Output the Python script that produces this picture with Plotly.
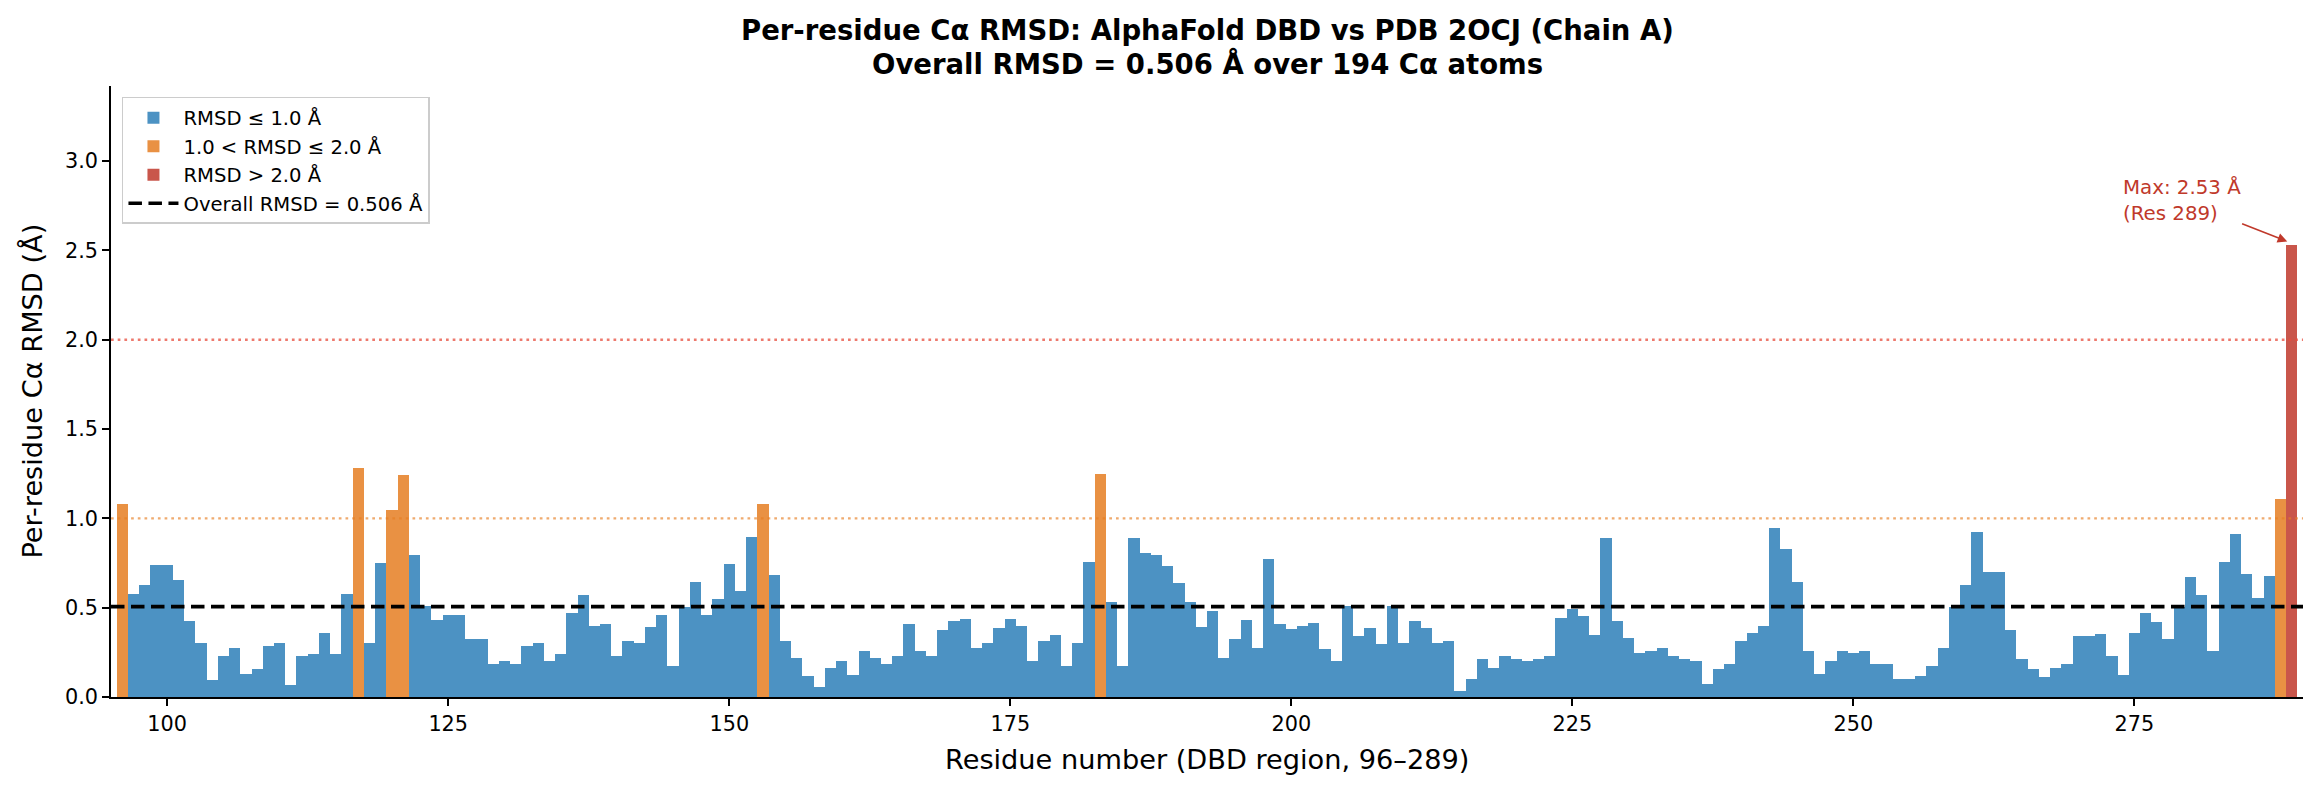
import plotly.graph_objects as go

# ---- data ----
first_residue = 96
rmsd = [
    1.08, 0.575, 0.625, 0.738, 0.738, 0.654, 0.423, 0.30, 0.097, 0.232,
    0.272, 0.131, 0.159, 0.283, 0.30, 0.069, 0.232, 0.243, 0.356, 0.243,
    0.575, 1.283, 0.305, 0.749, 1.047, 1.243, 0.794, 0.507, 0.429, 0.457,
    0.457, 0.322, 0.322, 0.187, 0.204, 0.182, 0.288, 0.30, 0.204, 0.243,
    0.468, 0.569, 0.395, 0.406, 0.227, 0.316, 0.30, 0.39, 0.457, 0.176,
    0.502, 0.642, 0.457, 0.547, 0.743, 0.592, 0.895, 1.081, 0.682, 0.316,
    0.221, 0.12, 0.058, 0.165, 0.199, 0.125, 0.26, 0.221, 0.187, 0.232,
    0.406, 0.255, 0.227, 0.373, 0.423, 0.434, 0.277, 0.305, 0.384, 0.434,
    0.40, 0.199, 0.316, 0.345, 0.176, 0.305, 0.755, 1.249, 0.53, 0.176,
    0.89, 0.805, 0.794, 0.732, 0.637, 0.53, 0.39, 0.479, 0.221, 0.322,
    0.429, 0.277, 0.772, 0.406, 0.378, 0.395, 0.412, 0.266, 0.204, 0.507,
    0.339, 0.384, 0.294, 0.507, 0.30, 0.423, 0.384, 0.305, 0.316, 0.036,
    0.103, 0.215, 0.165, 0.227, 0.21, 0.199, 0.21, 0.227, 0.44, 0.49,
    0.451, 0.345, 0.89, 0.423, 0.333, 0.249, 0.255, 0.272, 0.227, 0.21,
    0.199, 0.075, 0.159, 0.187, 0.311, 0.356, 0.40, 0.946, 0.828, 0.642,
    0.26, 0.131, 0.199, 0.255, 0.249, 0.255, 0.182, 0.182, 0.103, 0.103,
    0.12, 0.176, 0.272, 0.502, 0.625, 0.923, 0.699, 0.699, 0.373, 0.21,
    0.159, 0.114, 0.165, 0.182, 0.339, 0.339, 0.35, 0.232, 0.125, 0.356,
    0.468, 0.418, 0.322, 0.502, 0.67, 0.569, 0.255, 0.755, 0.912, 0.687,
    0.552, 0.676, 1.109, 2.53,
]
residues = list(range(first_residue, first_residue + len(rmsd)))
overall_rmsd = 0.506
n_atoms = 194
thresholds = [1.0, 2.0]
x_ticks = [100, 125, 150, 175, 200, 225, 250, 275]
y_ticks = [0.0, 0.5, 1.0, 1.5, 2.0, 2.5, 3.0]

# ---- styling ----
BLUE = "rgb(76,146,195)"
ORANGE = "rgb(233,145,67)"
RED = "rgb(201,86,75)"
FONT = "DejaVu Sans"

groups = [
    ("RMSD ≤ 1.0 Å", BLUE, lambda v: v <= 1.0),
    ("1.0 < RMSD ≤ 2.0 Å", ORANGE, lambda v: 1.0 < v <= 2.0),
    ("RMSD > 2.0 Å", RED, lambda v: v > 2.0),
]

fig = go.Figure()
for name, color, cond in groups:
    xs = [r for r, v in zip(residues, rmsd) if cond(v)]
    ys = [v for v in rmsd if cond(v)]
    fig.add_trace(go.Bar(x=xs, y=ys, width=1.0, name=name,
                         marker=dict(color=color, line=dict(width=0))))

xmin, xmax = residues[0] - 1, residues[-1] + 1
fig.add_trace(go.Scatter(x=[xmin, xmax], y=[overall_rmsd, overall_rmsd],
                         mode="lines", name=f"Overall RMSD = {overall_rmsd} Å",
                         line=dict(color="black", width=3.6, dash="13.5px,6.5px")))

# threshold dotted lines
fig.add_shape(type="line", xref="paper", x0=0, x1=1, yref="y",
              y0=thresholds[0], y1=thresholds[0],
              line=dict(color="rgba(230,126,34,0.65)", width=2.4, dash="2.7px,4px"))
fig.add_shape(type="line", xref="paper", x0=0, x1=1, yref="y",
              y0=thresholds[1], y1=thresholds[1],
              line=dict(color="rgba(231,76,60,0.75)", width=2.4, dash="2.7px,4px"))

imax = rmsd.index(max(rmsd))
fig.add_annotation(x=residues[imax] - 0.4, y=rmsd[imax] + 0.02, xref="x", yref="y",
                   ax=279.2, ay=2.78, axref="x", ayref="y",
                   text=f"Max: {rmsd[imax]:.2f} Å<br>(Res {residues[imax]})",
                   align="left", showarrow=True, arrowhead=2, arrowsize=1.2,
                   arrowwidth=1.6, arrowcolor="#c0392b",
                   font=dict(family=FONT, size=19.8, color="#c0392b"))

# titles
fig.add_annotation(xref="paper", yref="paper", x=0.5, y=1.0916, yanchor="middle",
                   showarrow=False,
                   text="<b>Per-residue Cα RMSD: AlphaFold DBD vs PDB 2OCJ (Chain A)</b>",
                   font=dict(family=FONT, size=27.5, color="black"))
fig.add_annotation(xref="paper", yref="paper", x=0.5, y=1.0376, yanchor="middle",
                   showarrow=False,
                   text=f"<b>Overall RMSD = {overall_rmsd} Å over {n_atoms} Cα atoms</b>",
                   font=dict(family=FONT, size=27.5, color="black"))
fig.add_annotation(xref="paper", yref="paper", x=0.5, y=-0.1031, yanchor="middle",
                   showarrow=False,
                   text=f"Residue number (DBD region, {residues[0]}–{residues[-1]})",
                   font=dict(family=FONT, size=27.2, color="black"))
fig.add_annotation(xref="paper", yref="paper", x=-0.036, y=0.5, xanchor="center",
                   yanchor="middle", textangle=-90, showarrow=False,
                   text="Per-residue Cα RMSD (Å)",
                   font=dict(family=FONT, size=27.2, color="black"))

fig.update_layout(
    width=2320, height=794,
    margin=dict(l=111, r=17, t=86, b=97),
    paper_bgcolor="white", plot_bgcolor="white",
    barmode="overlay", bargap=0,
    font=dict(family=FONT, size=20.8, color="black"),
    showlegend=True,
    legend=dict(x=0.005, y=0.982, xanchor="left", yanchor="top",
                bgcolor="rgba(255,255,255,0.85)", bordercolor="#cccccc",
                borderwidth=1.5, font=dict(family=FONT, size=19.6, color="black"),
                tracegroupgap=0, itemwidth=50),
    xaxis=dict(range=[xmin, xmax], tickvals=x_ticks, showgrid=False, zeroline=False,
               showline=True, linecolor="black", linewidth=1.7,
               ticks="outside", ticklen=7, tickwidth=1.7, tickcolor="black",
               tickfont=dict(family=FONT, size=20.8, color="black")),
    yaxis=dict(range=[0, 3.42], tickvals=y_ticks, tickformat=".1f", showgrid=False,
               zeroline=False, showline=True, linecolor="black", linewidth=1.7,
               ticks="outside", ticklen=7, tickwidth=1.7, tickcolor="black",
               tickfont=dict(family=FONT, size=20.8, color="black")),
)

fig.write_html("out.html")
